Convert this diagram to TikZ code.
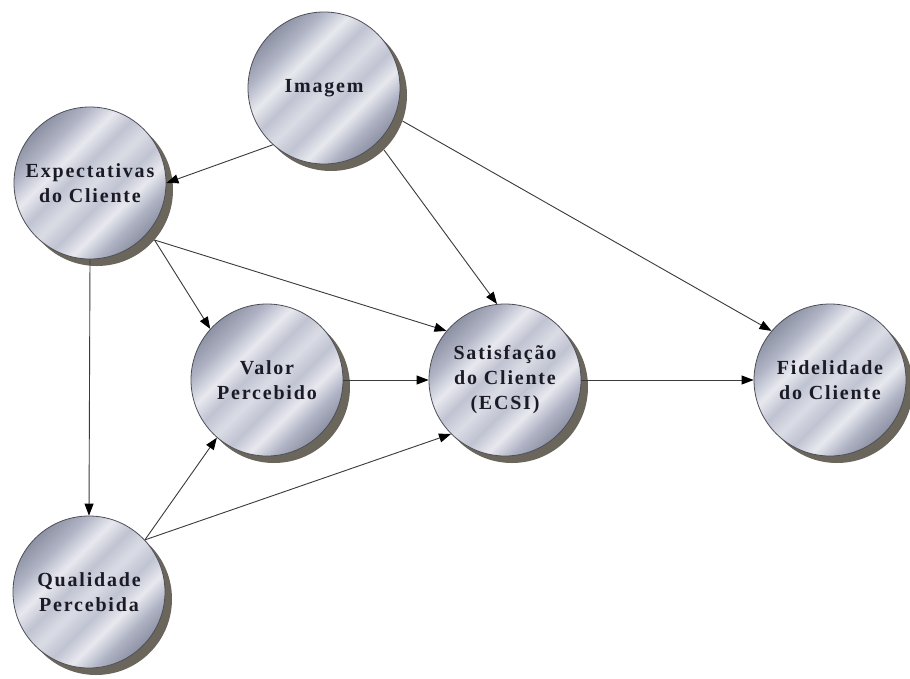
\documentclass[tikz,border=0pt]{standalone}
\usepackage{fontspec}
\setmainfont{Liberation Serif}
\usetikzlibrary{arrows.meta}

\definecolor{rim}{HTML}{4E4F58}
\definecolor{shadowcol}{HTML}{6B665C}
\definecolor{ink}{HTML}{1A1B26}
\definecolor{linkcol}{HTML}{3A3A3A}
\definecolor{mA}{HTML}{8D92A4}
\definecolor{mB}{HTML}{B0B4C5}
\definecolor{mL}{HTML}{E8E9EF}
\definecolor{mC}{HTML}{C0C3D1}
\definecolor{mD}{HTML}{DADCE5}

% brushed-metal fill for the discs
\pgfdeclarehorizontalshading{metal}{100bp}{%
  color(0bp)=(mA); color(25bp)=(mA); color(32bp)=(mB); color(39bp)=(mL);
  color(45bp)=(mC); color(51bp)=(mD); color(57bp)=(mC); color(63bp)=(mL);
  color(69bp)=(mB); color(75bp)=(mA); color(100bp)=(mA)}

\tikzset{
  ball/.style={circle, minimum size=152pt, inner sep=0pt, draw=rim,
    line width=0.8pt, shading=metal, shading angle=-45, align=center,
    text=ink, font=\bfseries\fontsize{20}{25}\selectfont\addfontfeatures{LetterSpace=9}},
  shadedisc/.style={circle, minimum size=152pt, inner sep=0pt, fill=shadowcol},
  link/.style={draw=linkcol, line width=0.9pt,
    -{Triangle[length=12pt,width=9pt,color=black]}},
}

\begin{document}
\begin{tikzpicture}[x=1pt, y=-1pt]
  \useasboundingbox[fill=white] (0,0) rectangle (910,678);

  % drop shadows
  \node[shadedisc] (ish) at (331,95)  {};
  \node[shadedisc] (esh) at (97,190)  {};
  \node[shadedisc] (vsh) at (274,387) {};
  \node[shadedisc] (ssh) at (512,387) {};
  \node[shadedisc] (fsh) at (837,387) {};
  \node[shadedisc] (qsh) at (96,599)  {};

  % constructs
  \node[ball] (i) at (324,88)  {Imagem};
  \node[ball] (e) at (90,183)  {Expectativas\\do Cliente};
  \node[ball] (v) at (267,380) {Valor\\Percebido};
  \node[ball] (s) at (505,380) {Satisfação\\do Cliente\\(ECSI)};
  \node[ball] (f) at (830,380) {Fidelidade\\do Cliente};
  \node[ball] (q) at (89,592)  {Qualidade\\Percebida};

  % relations
  \draw[link] (i.228) -- (e.east);
  \draw[link] (ish.-46) -- (s.96);
  \draw[link] (ish.-20) -- (f.140);
  \draw[link] (esh.-41) -- (v.138);
  \draw[link] (esh.-41) -- (s.140);
  \draw[link] (e.south) -- (q.north);
  \draw[link] (v.east) -- (s.west);
  \draw[link] (s.east) -- (f.west);
  \draw[link] (q.43) -- (v.229);
  \draw[link] (q.43) -- (s.225);
\end{tikzpicture}
\end{document}
